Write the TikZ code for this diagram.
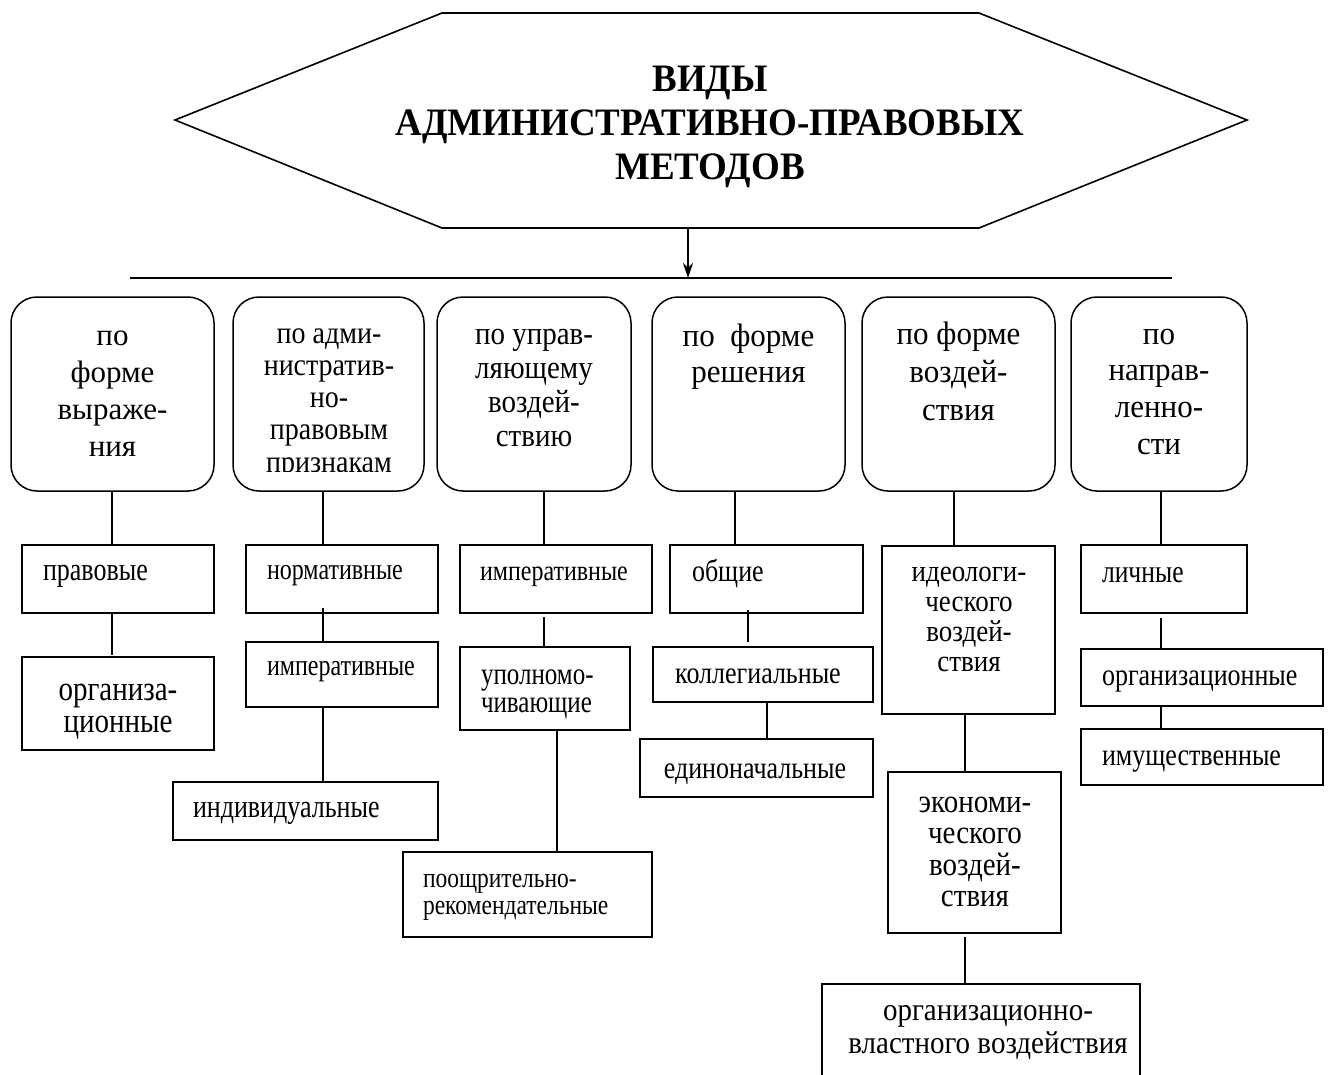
\documentclass[tikz,border=0pt]{standalone}
\usepackage{fontspec}
\setmainfont{Liberation Serif}
\usepackage{graphicx}
\usetikzlibrary{arrows.meta,calc}
\newcommand\sm[1]{\smash{#1}}
\newcommand\tb[3]{\scalebox{1}[#1]{\begin{tabular}[t]{@{}#2@{}}#3\end{tabular}}}
\newcommand\mkbox[6]{\node[#1, anchor=north west, minimum width={(#5)-(#3)}, minimum height={(#6)-(#4)}] (#2) at (#3,#4) {};}
\tikzset{
  rbox/.style={draw, line width=1.5pt, rounded corners=26pt, inner sep=0pt, outer sep=0pt},
  cbox/.style={draw, line width=1.5pt, inner sep=0pt, outer sep=0pt},
  conn/.style={line width=1.5pt},
  txt/.style={inner sep=0pt, outer sep=0pt},
}
\begin{document}
\begin{tikzpicture}[x=1pt,y=-1pt]
\useasboundingbox (0,0) rectangle (1328,1074);
\clip (0,0) rectangle (1328,1074);

% title hexagon
\draw[line width=1.6pt] (442,13) -- (979,13) -- (1247,120) -- (979,228) -- (442,228) -- (175,120) -- cycle;
\node[txt, anchor=base, font=\bfseries\fontsize{37}{42}\selectfont] (title) at (710,91)
  {\tb{1.05}{c}{\sm{ВИДЫ}\\\sm{АДМИНИСТРАТИВНО-ПРАВОВЫХ}\\\sm{МЕТОДОВ}}};
\coordinate (hexS) at (710,228);
\coordinate (hl1) at (130,278);
\coordinate (hl2) at (1172,278);
\coordinate (xa) at (688,0);
\draw[conn] (hl1) -- (hl2);
\draw[line width=1.3pt, -{Stealth[length=15pt,width=10pt]}] (hexS -| xa) -- (hl1 -| xa);

% top rounded boxes
\mkbox{rbox}{b1}{11}{297}{214}{491}
\mkbox{rbox}{b2}{233}{297}{424}{491}
\mkbox{rbox}{b3}{437}{297}{631}{491}
\mkbox{rbox}{b4}{652}{297}{845}{491}
\mkbox{rbox}{b5}{862}{297}{1055}{491}
\mkbox{rbox}{b6}{1071}{297}{1247}{491}

\node[txt, anchor=base, font=\fontsize{31}{37.3}\selectfont] (b1t) at (112.5,345)
  {\tb{1}{c}{\sm{по}\\\sm{форме}\\\sm{выраже-}\\\sm{ния}}};
\begin{scope}
\clip (233,297) rectangle (424,471);
\node[txt, anchor=base, font=\fontsize{28}{28.8}\selectfont] (b2t) at (329,343)
  {\tb{1.12}{c}{\sm{по адми-}\\\sm{нистратив-}\\\sm{но-}\\\sm{правовым}\\\sm{признакам}}};
\end{scope}
\node[txt, anchor=base, font=\fontsize{29}{30.6}\selectfont] (b3t) at (534,344)
  {\tb{1.12}{c}{\sm{по управ-}\\\sm{ляющему}\\\sm{воздей-}\\\sm{ствию}}};
\node[txt, anchor=base, font=\fontsize{31}{34.3}\selectfont] (b4t) at (748.5,346)
  {\tb{1.05}{c}{\sm{по\ \ форме}\\\sm{решения}}};
\node[txt, anchor=base, font=\fontsize{31}{36.2}\selectfont] (b5t) at (958.5,344)
  {\tb{1.05}{c}{\sm{по форме}\\\sm{воздей-}\\\sm{ствия}}};
\node[txt, anchor=base, font=\fontsize{31}{35.2}\selectfont] (b6t) at (1159,344)
  {\tb{1.05}{c}{\sm{по}\\\sm{направ-}\\\sm{ленно-}\\\sm{сти}}};

% child boxes
\mkbox{cbox}{c1a}{22}{545}{214}{613}
\mkbox{cbox}{c1b}{22}{657}{214}{750}
\mkbox{cbox}{c2a}{246}{545}{438}{613}
\mkbox{cbox}{c2b}{246}{642}{438}{707}
\mkbox{cbox}{c2c}{173}{782}{438}{840}
\mkbox{cbox}{c3a}{460}{545}{652}{613}
\mkbox{cbox}{c3b}{460}{647}{630}{730}
\mkbox{cbox}{c3c}{403}{852}{652}{937}
\mkbox{cbox}{c4a}{670}{545}{863}{613}
\mkbox{cbox}{c4b}{653}{647}{873}{702}
\mkbox{cbox}{c4c}{640}{739}{873}{797}
\mkbox{cbox}{c5a}{882}{546}{1055}{714}
\mkbox{cbox}{c5b}{888}{772}{1061}{933}
\mkbox{cbox}{c5c}{822}{984}{1140}{1100}
\mkbox{cbox}{c6a}{1081}{545}{1247}{613}
\mkbox{cbox}{c6b}{1081}{649}{1323}{706}
\mkbox{cbox}{c6c}{1081}{729}{1323}{785}

% child texts
\node[txt, anchor=base west, font=\fontsize{26}{26}\selectfont] (c1at) at (43,580) {\tb{1.25}{l}{\sm{правовые}}};
\node[txt, anchor=base, font=\fontsize{29}{26.7}\selectfont] (c1bt) at (118,700) {\tb{1.2}{c}{\sm{организа-}\\\sm{ционные}}};
\node[txt, anchor=base west, font=\fontsize{24}{24}\selectfont] (c2at) at (267,579) {\tb{1.25}{l}{\sm{нормативные}}};
\node[txt, anchor=base west, font=\fontsize{24}{24}\selectfont] (c2bt) at (267,675) {\tb{1.25}{l}{\sm{императивные}}};
\node[txt, anchor=base west, font=\fontsize{26}{26}\selectfont] (c2ct) at (193,817) {\tb{1.25}{l}{\sm{индивидуальные}}};
\node[txt, anchor=base west, font=\fontsize{24}{24}\selectfont] (c3at) at (480,580) {\tb{1.2}{l}{\sm{императивные}}};
\node[txt, anchor=base west, font=\fontsize{25}{23}\selectfont] (c3bt) at (481,684) {\tb{1.25}{l}{\sm{уполномо-}\\\sm{чивающие}}};
\node[txt, anchor=base west, font=\fontsize{23.5}{22.5}\selectfont] (c3ct) at (423,887) {\tb{1.2}{l}{\sm{поощрительно-}\\\sm{рекомендательные}}};
\node[txt, anchor=base west, font=\fontsize{26}{26}\selectfont] (c4at) at (692,581) {\tb{1.2}{l}{\sm{общие}}};
\node[txt, anchor=base, font=\fontsize{26}{26}\selectfont] (c4bt) at (758,683) {\tb{1.2}{c}{\sm{коллегиальные}}};
\node[txt, anchor=base, font=\fontsize{26}{26}\selectfont] (c4ct) at (755,778) {\tb{1.2}{c}{\sm{единоначальные}}};
\node[txt, anchor=base, font=\fontsize{27}{26.8}\selectfont] (c5at) at (969,581) {\tb{1.13}{c}{\sm{идеологи-}\\\sm{ческого}\\\sm{воздей-}\\\sm{ствия}}};
\node[txt, anchor=base, font=\fontsize{29}{28}\selectfont] (c5bt) at (975,812) {\tb{1.13}{c}{\sm{экономи-}\\\sm{ческого}\\\sm{воздей-}\\\sm{ствия}}};
\node[txt, anchor=base, font=\fontsize{29}{30}\selectfont] (c5ct) at (988,1020) {\tb{1.1}{c}{\sm{организационно-}\\\sm{властного воздействия}}};
\node[txt, anchor=base west, font=\fontsize{25.6}{25.6}\selectfont] (c6at) at (1102,582) {\tb{1.25}{l}{\sm{личные}}};
\node[txt, anchor=base west, font=\fontsize{26}{26}\selectfont] (c6bt) at (1102,685) {\tb{1.2}{l}{\sm{организационные}}};
\node[txt, anchor=base west, font=\fontsize{26}{26}\selectfont] (c6ct) at (1102,765) {\tb{1.2}{l}{\sm{имущественные}}};

% connector x positions
\coordinate (k1) at (112,0);
\coordinate (k2) at (323,0);
\coordinate (k3) at (544,0);
\coordinate (k3b) at (557,0);
\coordinate (k4) at (735,0);
\coordinate (k4b) at (748,0);
\coordinate (k4c) at (767,0);
\coordinate (k5) at (954,0);
\coordinate (k5b) at (965,0);
\coordinate (k6) at (1161,0);

\draw[conn] (b1.south -| k1) -- (c1a.north -| k1);
\draw[conn] (c1a.south -| k1) -- ($(c1b.north -| k1)+(0,-2)$);
\draw[conn] (b2.south -| k2) -- (c2a.north -| k2);
\draw[conn] ($(c2a.south -| k2)+(0,-5)$) -- (c2b.north -| k2);
\draw[conn] (c2b.south -| k2) -- (c2c.north -| k2);
\draw[conn] (b3.south -| k3) -- (c3a.north -| k3);
\draw[conn] ($(c3a.south -| k3)+(0,4)$) -- (c3b.north -| k3);
\draw[conn] (c3b.south -| k3b) -- (c3c.north -| k3b);
\draw[conn] (b4.south -| k4) -- (c4a.north -| k4);
\draw[conn] ($(c4a.south -| k4b)+(0,-3)$) -- ($(c4b.north -| k4b)+(0,-5)$);
\draw[conn] (c4b.south -| k4c) -- (c4c.north -| k4c);
\draw[conn] (b5.south -| k5) -- (c5a.north -| k5);
\draw[conn] (c5a.south -| k5b) -- (c5b.north -| k5b);
\draw[conn] ($(c5b.south -| k5b)+(0,4)$) -- (c5c.north -| k5b);
\draw[conn] (b6.south -| k6) -- (c6a.north -| k6);
\draw[conn] ($(c6a.south -| k6)+(0,5)$) -- (c6b.north -| k6);
\draw[conn] (c6b.south -| k6) -- (c6c.north -| k6);
\end{tikzpicture}
\end{document}
